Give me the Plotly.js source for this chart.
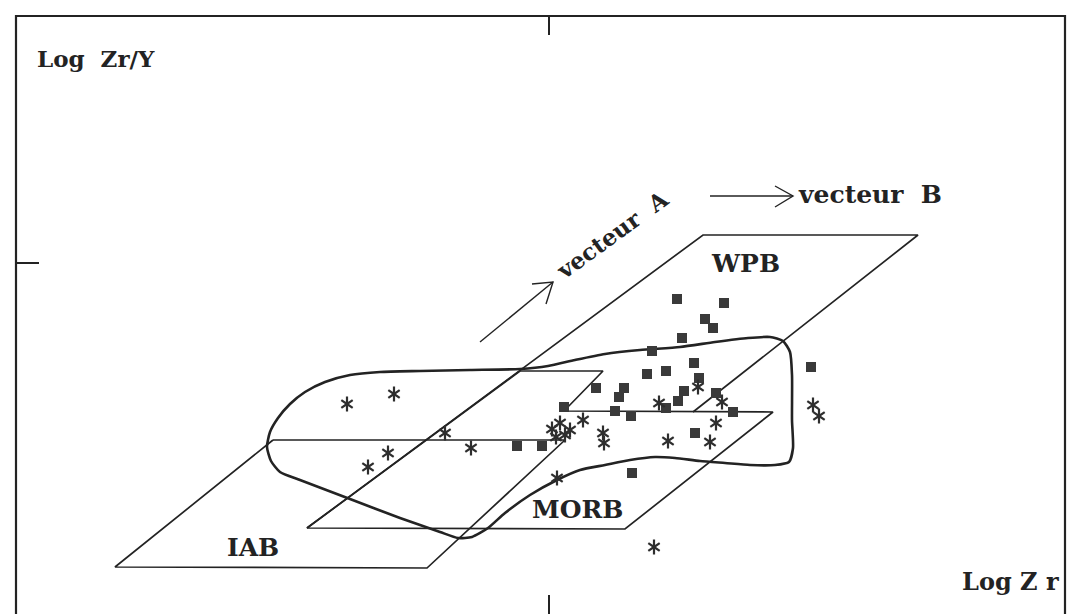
<!DOCTYPE html>
<html>
<head>
<meta charset="utf-8">
<script src="https://cdn.plot.ly/plotly-3.0.1.min.js"></script>
<style>html,body{margin:0;padding:0;background:#fff;}#chart{width:1077px;height:614px;}</style>
</head>
<body>
<div id="chart"></div>
<script>
// Coordinates (diagram units = position on the sheet)
const iabX = [273, 115, 427, 565, 273];
const iabY = [440, 567, 568, 440, 440];
const morbX = [520, 307, 625, 773, 564, 603, 520];
const morbY = [371, 528, 529, 412, 411, 371, 371];
const wpbX = [307, 703, 918, 693];
const wpbY = [528, 235, 235, 412];

const fieldX = [267,270,278,290,305,325,350,380,420,470,520,548,575,605,640,680,715,748,770,783,790,792,792,793,789,775,750,725,700,675,655,630,605,580,557,530,505,488,472,458,440,400,350,300,280,271,267];
const fieldY = [447,432,418,404,392,382,375,372,371,370,369,366,360,354,350,347,342,338,337,341,352,375,420,448,462,465,465,463,461,458,457,460,465,470,480,495,513,528,537,538,532,518,499,480,472,461,447];

const vecAX = [480, 553, null, 532, 553, 546];
const vecAY = [342, 282, null, 284, 282, 304];
const vecBX = [710, 793, null, 775, 793, 775];
const vecBY = [196, 196, null, 186, 196, 207];

const squareX = [677,724,705,713,682,652,647,666,694,699,624,619,684,678,596,564,615,631,666,716,733,695,632,811,517,542];
const squareY = [299,303,319,328,338,351,374,371,363,378,388,397,391,401,388,407,411,416,408,393,412,433,473,367,446,446];

const starX = [347,394,445,388,368,471,552,560,570,556,565,583,603,604,659,668,698,722,716,710,813,819,557,654];
const starY = [404,394,433,453,467,448,429,423,430,437,435,420,433,443,403,441,387,402,423,442,405,416,478,547];

const labels = ["Log\u00a0\u00a0Zr/Y", "Log\u00a0Z\u00a0r", "vecteur\u00a0\u00a0B", "vecteur\u00a0\u00a0A", "WPB", "MORB", "IAB"];

const ink = '#232323';
const starInk = '#2e2e2e';
const thin = {color: ink, width: 1.7};
const traces = [
  {x: iabX, y: iabY, mode: 'lines', line: thin},
  {x: morbX, y: morbY, mode: 'lines', line: thin},
  {x: wpbX, y: wpbY, mode: 'lines', line: thin},
  {x: fieldX, y: fieldY, mode: 'lines', line: {color: ink, width: 2.6, shape: 'spline', smoothing: 0.6}},
  {x: vecAX, y: vecAY, mode: 'lines', line: {color: ink, width: 1.4}},
  {x: vecBX, y: vecBY, mode: 'lines', line: {color: ink, width: 1.4}},
  {x: squareX, y: squareY, mode: 'markers', marker: {symbol: 'square', size: 10, color: '#3a3a3a'}},
  {x: starX, y: starY, mode: 'markers', marker: {symbol: 'y-up-open', size: 9.5, color: starInk, line: {color: starInk, width: 2.2}}},
  {x: starX, y: starY, mode: 'markers', marker: {symbol: 'y-down-open', size: 9.5, color: starInk, line: {color: starInk, width: 2.2}}}
];

const serif = {family: 'DejaVu Serif', color: ink, weight: 'bold'};
function f(size) { return Object.assign({}, serif, {size: size}); }

const layout = {
  width: 1077, height: 614,
  margin: {l: 16, r: 12, t: 16, b: 0, pad: 0},
  paper_bgcolor: '#fff', plot_bgcolor: '#fff',
  showlegend: false,
  xaxis: {range: [16, 1065], showgrid: false, zeroline: false, showline: false,
          tickvals: [549], ticks: 'inside', ticklen: 19, tickwidth: 1.8, tickcolor: ink,
          mirror: 'ticks', showticklabels: false, fixedrange: true},
  yaxis: {range: [614, 16], showgrid: false, zeroline: false, showline: false,
          tickvals: [263], ticks: 'inside', ticklen: 23, tickwidth: 1.8, tickcolor: ink,
          showticklabels: false, fixedrange: true},
  shapes: [
    {type: 'path', xref: 'paper', yref: 'paper', path: 'M0,0 L0,1 L1,1 L1,0', line: {color: ink, width: 2.2}}
  ],
  annotations: [
    {x: 35, y: 58, xref: 'x', yref: 'y', text: labels[0], showarrow: false, xanchor: 'left', yanchor: 'middle', font: f(23)},
    {x: 1061, y: 581, xref: 'x', yref: 'y', text: labels[1], showarrow: false, xanchor: 'right', yanchor: 'middle', font: f(24)},
    {x: 796, y: 194, xref: 'x', yref: 'y', text: labels[2], showarrow: false, xanchor: 'left', yanchor: 'middle', font: f(25)},
    {x: 612, y: 234, xref: 'x', yref: 'y', text: labels[3], showarrow: false, xanchor: 'center', yanchor: 'middle', textangle: -36, font: f(23)},
    {x: 745, y: 263, xref: 'x', yref: 'y', text: labels[4], showarrow: false, xanchor: 'center', yanchor: 'middle', font: f(25)},
    {x: 577, y: 509, xref: 'x', yref: 'y', text: labels[5], showarrow: false, xanchor: 'center', yanchor: 'middle', font: f(25)},
    {x: 253, y: 547, xref: 'x', yref: 'y', text: labels[6], showarrow: false, xanchor: 'center', yanchor: 'middle', font: f(25)}
  ]
};

Plotly.newPlot('chart', traces, layout, {displayModeBar: false, staticPlot: true});
</script>
</body>
</html>
